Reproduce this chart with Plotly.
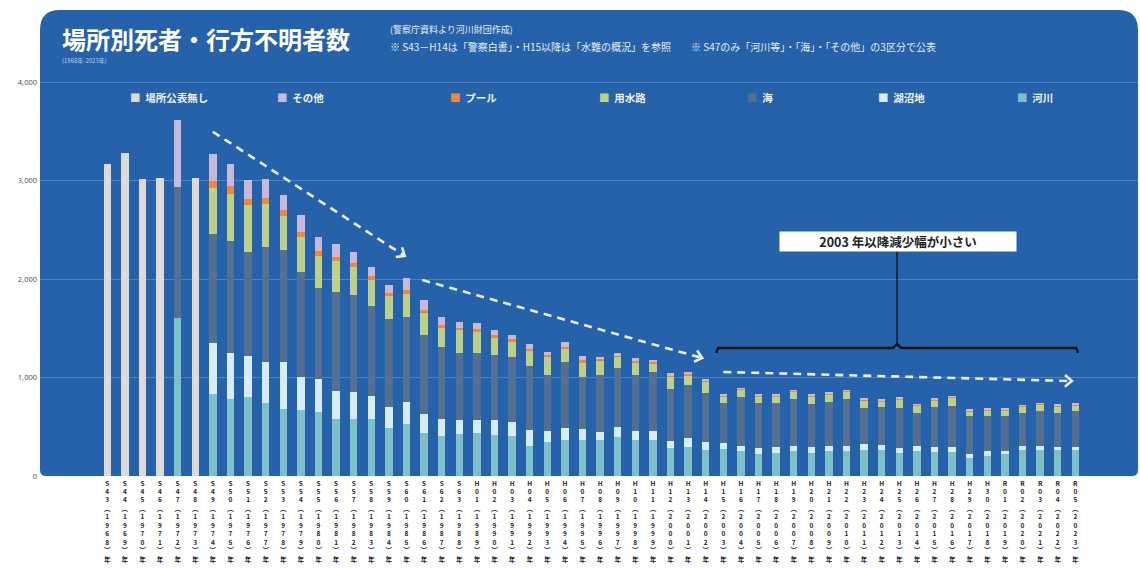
import plotly.graph_objects as go

# ---------------------------------------------------------------
# Data: drowning deaths / missing persons by location, 1968-2023
# ---------------------------------------------------------------
years = list(range(1968, 2024))
era_labels = (
    [f"S{n}" for n in range(43, 64)]
    + [f"H{n:02d}" for n in range(1, 31)]
    + [f"R{n:02d}" for n in range(1, 6)]
)

N = None
unreported = [3170, 3280, 3020, 3030, N, 3030] + [N] * 50
river = [N, N, N, N, 1600, N,
         833, 783, 806, 739, 682, 672, 648, 581, 578, 578,
         487, 530, 436, 409, 429, 436, 419, 409, 301, 341,
         369, 369, 369, 396, 369, 362, 280, 295, 268, 274,
         251, 227, 234, 251, 234, 251, 251, 268, 261, 234,
         251, 241, 241, 184, 200, 220, 268, 268, 261, 261]
lake = [N] * 6 + [
         519, 461, 414, 421, 471, 336, 334, 283, 279, 238,
         212, 226, 195, 169, 142, 128, 145, 144, 169, 112,
         118, 108, 73, 101, 84, 91, 72, 91, 77, 61,
         57, 58, 61, 57, 57, 57, 57, 57, 50, 51,
         50, 54, 54, 43, 51, 31, 33, 40, 34, 34]
sea = [N, N, N, N, 1335, N,
       1105, 1138, 1051, 1168, 1142, 1061, 925, 1003, 976, 906,
       892, 858, 798, 727, 680, 680, 663, 651, 646, 572,
       673, 531, 583, 596, 572, 606, 534, 538, 502, 404,
       498, 454, 444, 472, 441, 448, 472, 364, 394, 410,
       343, 404, 417, 384, 360, 360, 337, 347, 343, 360]
canal = [N] * 6 + [
         464, 485, 478, 432, 346, 353, 330, 313, 286, 270,
         232, 237, 226, 202, 229, 219, 179, 158, 155, 179,
         125, 142, 150, 120, 130, 88, 121, 100, 110, 64,
         71, 71, 71, 74, 78, 74, 74, 81, 55, 85,
         68, 71, 81, 48, 58, 58, 64, 70, 71, 64]
pool = [N] * 6 + [
        74, 77, 61, 60, 58, 51, 44, 40, 41, 40,
        34, 33, 34, 26, 27, 27, 23, 24, 20, 23,
        26, 27, 15, 15, 20, 15, 15, 15, 8, 10] + [10] * 20
other = [N, N, N, N, 675, N,
         276, 220, 195, 192, 155, 179, 148, 136, 118, 87,
         84, 128, 94, 81, 57, 64, 51, 50, 54, 34,
         51, 40, 20, 16, 19, 15, 20, 20, 10, 10] + [6] * 20

# stacking order, bottom to top
series = [
    ("河川", river, "#7fbfcc"),
    ("湖沼地", lake, "#d6ecf6"),
    ("海", sea, "#536f93"),
    ("用水路", canal, "#bdd089"),
    ("プール", pool, "#f0883a"),
    ("その他", other, "#c7b8dc"),
    ("場所公表無し", unreported, "#dcdada"),
]

y_ticks = [0, 1000, 2000, 3000, 4000]

# ---------------------------------------------------------------
# Geometry
# ---------------------------------------------------------------
W, H = 1140, 569
M = dict(l=40, r=2, t=10, b=93)
PLOT_W = W - M["l"] - M["r"]
PLOT_H = H - M["t"] - M["b"]
X_RANGE = [1964.18, 2026.56]
Y_RANGE = [0, 4731]
PX_PER_X = PLOT_W / (X_RANGE[1] - X_RANGE[0])
PX_PER_Y = PLOT_H / (Y_RANGE[1] - Y_RANGE[0])
BG_BLUE = "#2662aa"
JP = "Noto Sans CJK JP"


def paper_x(px):
    return (px - M["l"]) / PLOT_W


def paper_y(py):
    return (H - M["b"] - py) / PLOT_H


def vertical_label(era, year):
    chars = list(era) + ["︵"] + list(str(year)) + ["︶", "年"]
    return "<br>".join(chars)


fig = go.Figure()
for name, values, color in series:
    fig.add_trace(go.Bar(
        x=years, y=values, name=name, width=0.42,
        marker=dict(color=color, line=dict(width=0)),
        showlegend=False,
    ))

shapes = []

# rounded blue panel behind the plot
r_top, r_bot = 20, 6
rx, ry = r_top / PLOT_W, r_top / PLOT_H
bx, by = r_bot / PLOT_W, r_bot / PLOT_H
panel = (f"M 0,{by} L 0,{1-ry} Q 0,1 {rx},1 L {1-rx},1 Q 1,1 1,{1-ry} "
         f"L 1,{by} Q 1,0 {1-bx},0 L {bx},0 Q 0,0 0,{by} Z")
shapes.append(dict(type="path", xref="paper", yref="paper", path=panel,
                   fillcolor=BG_BLUE, line=dict(width=0), layer="below"))

# dashed trend arrows
ARROW_COLOR = "#e9eef6"
trend_arrows = [
    ((1974.0, 3495), (1984.9, 2234)),
    ((1985.9, 1990), (2001.8, 1198)),
    ((2003.0, 1056), (2022.8, 964)),
]
for (x0, y0), (x1, y1) in trend_arrows:
    shapes.append(dict(type="line", xref="x", yref="y", x0=x0, y0=y0, x1=x1, y1=y1,
                       line=dict(color=ARROW_COLOR, width=2.6, dash="8px,6px")))
    dx = (x1 - x0) * PX_PER_X
    dy = (y1 - y0) * PX_PER_Y
    L = (dx * dx + dy * dy) ** 0.5
    ux, uy = dx / L, dy / L
    pts = []
    for s in (1, -1):
        # rotate the backward direction by +/- 40 degrees
        c, sn = 0.766, 0.643 * s
        bxv, byv = -ux, -uy
        pts.append((9 * (bxv * c - byv * sn), 9 * (bxv * sn + byv * c)))
    path = f"M {pts[0][0]:.2f},{pts[0][1]:.2f} L 0,0 L {pts[1][0]:.2f},{pts[1][1]:.2f}"
    shapes.append(dict(type="path", xref="x", yref="y", xsizemode="pixel", ysizemode="pixel",
                       xanchor=x1, yanchor=y1, path=path,
                       line=dict(color=ARROW_COLOR, width=2.6)))

# bracket over 2003 onwards
bl, br, bc = 2002.6, 2023.15, 2012.87
by_line = 1300
hook = 5 / PX_PER_Y
peak = 4 / PX_PER_Y
step = 4 / PX_PER_X
bracket = (f"M {bl},{by_line - hook} L {bl + 0.1},{by_line} L {bc - step},{by_line} "
           f"L {bc},{by_line + peak} L {bc + step},{by_line} L {br - 0.1},{by_line} "
           f"L {br},{by_line - hook}")
shapes.append(dict(type="path", xref="x", yref="y", path=bracket,
                   line=dict(color="#111111", width=2.4)))
shapes.append(dict(type="line", xref="x", yref="y", x0=bc, x1=bc,
                   y0=by_line + peak, y1=2290, line=dict(color="#111111", width=1.3)))

annotations = []
# title block
annotations.append(dict(xref="paper", yref="paper", x=paper_x(60), y=paper_y(38),
                        xanchor="left", yanchor="middle", showarrow=False,
                        text="場所別死者・行方不明者数",
                        font=dict(family=JP, size=24, color="white", weight="bold")))
annotations.append(dict(xref="paper", yref="paper", x=paper_x(60), y=paper_y(61),
                        xanchor="left", yanchor="middle", showarrow=False,
                        text="(1968年-2023年)",
                        font=dict(family=JP, size=6, color="#b9cde8")))
annotations.append(dict(xref="paper", yref="paper", x=paper_x(388), y=paper_y(30),
                        xanchor="left", yanchor="middle", showarrow=False,
                        text="(警察庁資料より河川財団作成)",
                        font=dict(family=JP, size=9, color="#e6edf7")))
annotations.append(dict(xref="paper", yref="paper", x=paper_x(388), y=paper_y(46),
                        xanchor="left", yanchor="middle", showarrow=False,
                        text="※ S43－H14は「警察白書」・H15以降は「水難の概況」を参照　　"
                             "※ S47のみ「河川等」・「海」・「その他」の3区分で公表",
                        font=dict(family=JP, size=10, color="#e6edf7")))

# legend row
legend_order = ["場所公表無し", "その他", "プール", "用水路", "海", "湖沼地", "河川"]
legend_px = [128, 275, 448, 597, 745, 876, 1015]
colors = {name: color for name, _, color in series}
for name, px in zip(legend_order, legend_px):
    annotations.append(dict(
        xref="paper", yref="paper", x=paper_x(px), y=paper_y(97),
        xanchor="left", yanchor="middle", showarrow=False,
        text=f"<span style='color:{colors[name]}'>■</span>  {name}",
        font=dict(family=JP, size=10.5, color="#eef1f6", weight="bold")))

# callout label
annotations.append(dict(xref="x", yref="y", x=2012.9, y=2376, showarrow=False,
                        text="2003 年以降減少幅が小さい", width=234, height=17,
                        bgcolor="white", align="center",
                        font=dict(family=JP, size=12.5, color="#222222", weight="bold")))

fig.update_layout(
    width=W, height=H, margin=M,
    barmode="stack",
    paper_bgcolor="white", plot_bgcolor="rgba(0,0,0,0)",
    shapes=shapes, annotations=annotations,
    xaxis=dict(
        range=X_RANGE, tickmode="array", tickvals=years,
        ticktext=[vertical_label(e, y) for e, y in zip(era_labels, years)],
        tickfont=dict(family=JP, size=6.5, color="#1e1e1e", weight="bold"),
        ticks="", showgrid=False, zeroline=False, showline=False,
        tickangle=0, ticklabelstandoff=2,
    ),
    yaxis=dict(
        range=Y_RANGE, tickvals=y_ticks, tickformat=",d",
        tickfont=dict(family="Noto Sans", size=7.5, color="#555555"),
        showgrid=True, gridcolor="#4a84c6", gridwidth=1,
        zeroline=False, showline=False, ticks="", ticklabelstandoff=2,
    ),
    font=dict(family=JP),
)

fig.write_html("out.html")
